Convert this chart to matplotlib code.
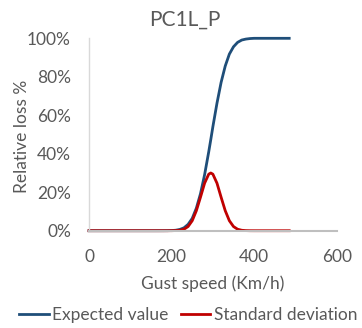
import matplotlib
matplotlib.use('Agg')
import matplotlib.pyplot as plt
from matplotlib.ticker import PercentFormatter

# gust speed (km/h) and curve values
speed = [0, 20, 40, 60, 80, 100, 120, 140, 160, 180, 190, 200, 210, 220, 230,
         240, 250, 260, 270, 280, 290, 295, 300, 310, 320, 330, 340, 350, 360,
         370, 380, 390, 400, 420, 440, 460, 485]
expected = [0, 0, 0, 0, 0, 0, 0, 0, 0, 0.0001, 0.0003, 0.0009, 0.0025, 0.0066, 0.015,
            0.033, 0.064, 0.117, 0.192, 0.291, 0.410, 0.474, 0.540, 0.663, 0.771, 0.856,
            0.918, 0.956, 0.979, 0.991, 0.996, 0.9987, 1.0, 1.0, 1.0, 1.0, 1.0]
std_dev = [0, 0, 0, 0, 0, 0, 0, 0, 0, 0, 0, 0.0002, 0.0008, 0.0023, 0.0077,
           0.0217, 0.052, 0.104, 0.174, 0.247, 0.294, 0.300, 0.294, 0.247, 0.174, 0.104,
           0.052, 0.0217, 0.0077, 0.0023, 0.0006, 0.0001, 0, 0, 0, 0, 0]

x_ticks = [0, 200, 400, 600]
y_ticks = [0, 0.2, 0.4, 0.6, 0.8, 1.0]

txt = '#595959'
fs = 12.5
plt.rcParams['font.family'] = ['Lato', 'DejaVu Sans']

fig = plt.figure(figsize=(3.62, 3.28), dpi=100)
ax = fig.add_axes([0.246, 0.2966, 0.684, 0.5866])

ax.plot(speed, expected, color='#1F4E79', lw=2, label='Expected value', clip_on=False)
ax.plot(speed, std_dev, color='#C00000', lw=2, label='Standard deviation', clip_on=False)

ax.set_xlim(0, 600)
ax.set_ylim(0, 1)
ax.set_xticks(x_ticks)
ax.set_yticks(y_ticks)
ax.yaxis.set_major_formatter(PercentFormatter(1.0, decimals=0))
ax.tick_params(length=0, labelsize=fs, colors=txt)
ax.tick_params(axis='y', pad=13)
ax.tick_params(axis='x', pad=13)

for s in ['top', 'right']:
    ax.spines[s].set_visible(False)
ax.spines['left'].set_color('#d9d9d9')
ax.spines['left'].set_linewidth(1)
ax.spines['bottom'].set_color('#bfbfbf')
ax.spines['bottom'].set_linewidth(1.5)

ax.set_xlabel('Gust speed (Km/h)', fontsize=fs, color=txt, labelpad=8)
# y label sits closer than the widest tick label would allow, so place it by hand
fig.text(0.062, 0.585, 'Relative loss %', rotation=90, ha='center', va='center',
         fontsize=fs, color=txt)

fig.text(0.51, 0.939, 'PC1L_P', ha='center', va='center', fontsize=15, color=txt)

fig.legend(loc='center', bbox_to_anchor=(0.52, 0.04), ncol=2, frameon=False,
           fontsize=fs, handlelength=1.7, handletextpad=0.2, columnspacing=0.7,
           labelcolor=txt)

fig.savefig('out.png', dpi=100)
